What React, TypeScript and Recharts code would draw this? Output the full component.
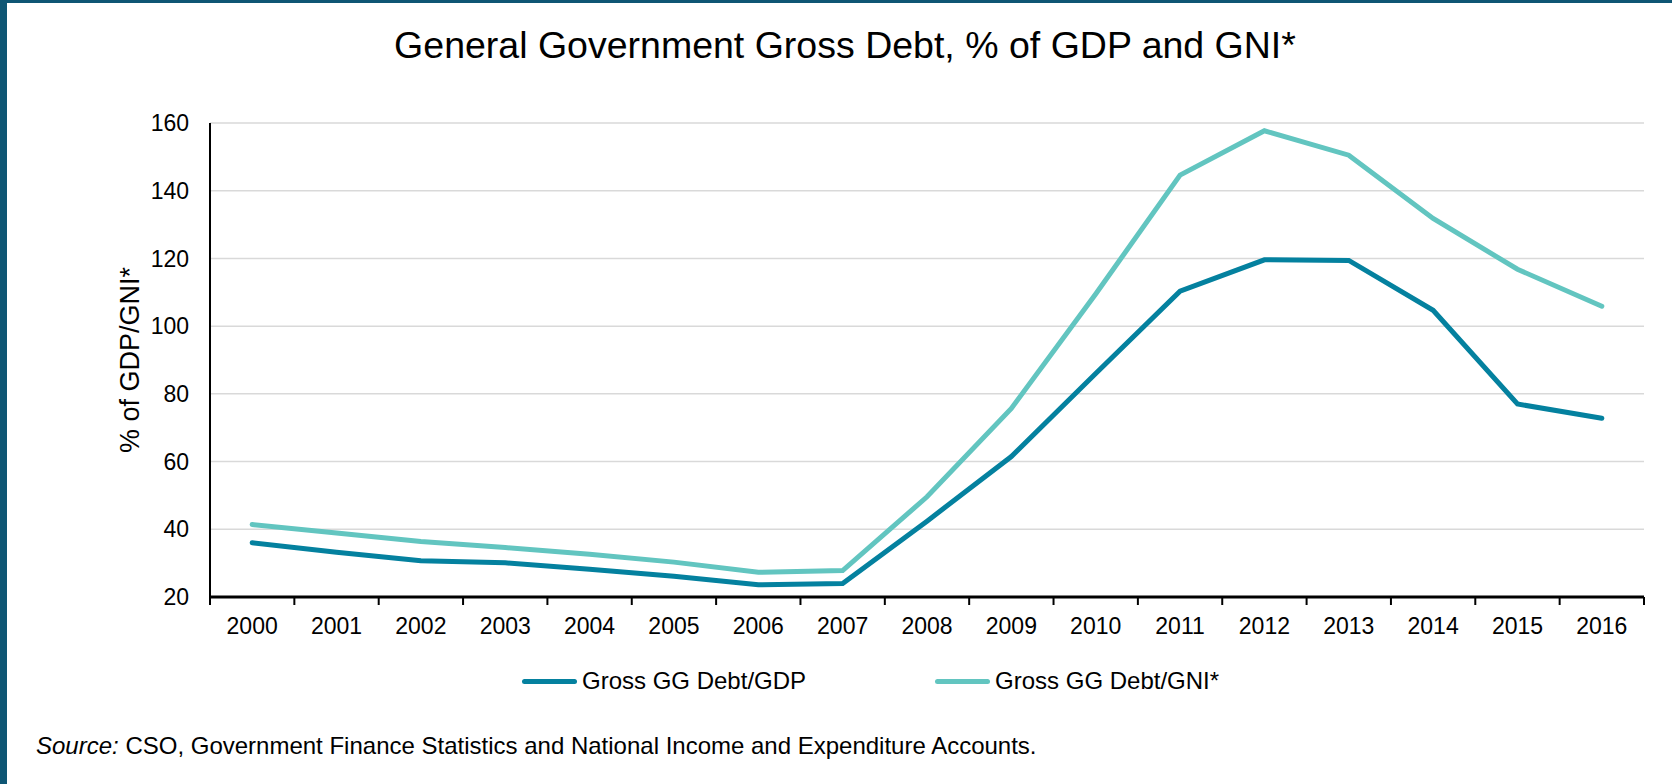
import React from "react";
import { LineChart, Line, XAxis, YAxis, CartesianGrid, Legend } from "recharts";

const YEARS = [
  "2000", "2001", "2002", "2003", "2004", "2005", "2006", "2007", "2008",
  "2009", "2010", "2011", "2012", "2013", "2014", "2015", "2016",
];
// Gross GG debt as % of GDP
const DEBT_GDP = [36.0, 33.2, 30.7, 30.1, 28.2, 26.1, 23.6, 24.0, 42.4, 61.5, 86.0, 110.3, 119.6, 119.4, 104.7, 77.0, 72.8];
// Gross GG debt as % of GNI*
const DEBT_GNI = [41.4, 38.9, 36.4, 34.6, 32.6, 30.3, 27.3, 27.8, 49.6, 75.7, 109.5, 144.6, 157.7, 150.5, 131.8, 116.8, 105.9];
const Y_TICKS = [20, 40, 60, 80, 100, 120, 140, 160];

const COLORS = {
  gdp: "#04819f",
  gni: "#62c5c0",
  frame: "#0e5674",
  grid: "#d9d9d9",
};
const FONT = '"Liberation Sans", Arial, sans-serif';

const data = YEARS.map((year, i) => ({ year, gdp: DEBT_GDP[i], gni: DEBT_GNI[i] }));

// year label plus tick marks on the band edges
const YearTick = (props: any) => {
  const { x, y, payload, index, visibleTicksCount, width } = props;
  const half = payload.offset ?? width / visibleTicksCount / 2;
  return (
    <g>
      <line x1={x - half} x2={x - half} y1={y} y2={y + 8} stroke="#000" strokeWidth={2} />
      {index === visibleTicksCount - 1 && (
        <line x1={x + half} x2={x + half} y1={y} y2={y + 8} stroke="#000" strokeWidth={2} />
      )}
      <text x={x} y={y + 37} textAnchor="middle" fontSize={23} fontFamily={FONT} fill="#000">
        {payload.value}
      </text>
    </g>
  );
};

const LegendContent = ({ payload }: any) => (
  <div style={{ display: "flex", fontFamily: FONT, fontSize: 24, lineHeight: "28px", color: "#000" }}>
    {(payload || []).map((entry: any, i: number) => (
      <div key={entry.value} style={{ display: "flex", alignItems: "center", marginLeft: i ? 129 : 0 }}>
        <span
          style={{ width: 55, height: 5, borderRadius: 3, background: entry.color, marginRight: 5 }}
        />
        <span>{entry.value}</span>
      </div>
    ))}
  </div>
);

export default function App() {
  return (
    <div style={{ position: "absolute", left: 0, top: 0, width: 1672, height: 784, background: "#fff" }}>
      <LineChart
        width={1672}
        height={784}
        data={data}
        margin={{ top: 123, right: 28, bottom: 137, left: 0 }}
      >
        <CartesianGrid xAxisId="cat" yAxisId="left" vertical={false} stroke={COLORS.grid} strokeWidth={1.5} />
        <XAxis
          xAxisId="cat"
          dataKey="year"
          scale="band"
          height={50}
          axisLine={{ stroke: "#000", strokeWidth: 3 }}
          tickLine={false}
          tickSize={0}
          tickMargin={0}
          interval={0}
          tick={<YearTick />}
        />
        <XAxis
          xAxisId="top"
          dataKey="year"
          orientation="top"
          height={0}
          tick={false}
          tickLine={false}
          axisLine={{ stroke: "#000", strokeWidth: 1.5 }}
        />
        <YAxis
          yAxisId="left"
          domain={[20, 160]}
          ticks={Y_TICKS}
          width={210}
          axisLine={{ stroke: "#000", strokeWidth: 2 }}
          tickLine={false}
          tickSize={0}
          tickMargin={21}
          tick={{ fontSize: 23, fontFamily: FONT, fill: "#000" }}
          label={{
            value: "% of GDP/GNI*",
            angle: -90,
            position: "center",
            dx: 24,
            style: { fontSize: 27, fontFamily: FONT, fill: "#000" },
          }}
        />
        <YAxis
          yAxisId="right"
          orientation="right"
          domain={[20, 160]}
          width={0}
          tick={false}
          tickLine={false}
          axisLine={{ stroke: "#000", strokeWidth: 1.5 }}
        />
        <Legend
          verticalAlign="middle"
          align="center"
          content={<LegendContent />}
          wrapperStyle={{ left: 522, top: 667, width: 800, height: 28 }}
        />
        <Line
          xAxisId="cat"
          yAxisId="left"
          type="linear"
          dataKey="gdp"
          name="Gross GG Debt/GDP"
          stroke={COLORS.gdp}
          strokeWidth={5}
          strokeLinecap="round"
          dot={false}
          activeDot={false}
          isAnimationActive={false}
        />
        <Line
          xAxisId="cat"
          yAxisId="left"
          type="linear"
          dataKey="gni"
          name="Gross GG Debt/GNI*"
          stroke={COLORS.gni}
          strokeWidth={5}
          strokeLinecap="round"
          dot={false}
          activeDot={false}
          isAnimationActive={false}
        />
      </LineChart>

      <div
        style={{
          position: "absolute",
          left: 345,
          top: 27,
          width: 1000,
          textAlign: "center",
          fontFamily: FONT,
          fontSize: 37.5,
          lineHeight: "37px",
          color: "#000",
        }}
      >
        General Government Gross Debt, % of GDP and GNI*
      </div>

      <div
        style={{
          position: "absolute",
          left: 36,
          top: 734,
          fontFamily: FONT,
          fontSize: 24,
          lineHeight: "24px",
          color: "#000",
          whiteSpace: "nowrap",
        }}
      >
        <i>Source:</i> CSO, Government Finance Statistics and National Income and Expenditure Accounts.
      </div>

      <div style={{ position: "absolute", left: 0, top: 0, width: 1672, height: 3, background: COLORS.frame }} />
      <div style={{ position: "absolute", left: 0, top: 0, width: 7, height: 784, background: COLORS.frame }} />
    </div>
  );
}
